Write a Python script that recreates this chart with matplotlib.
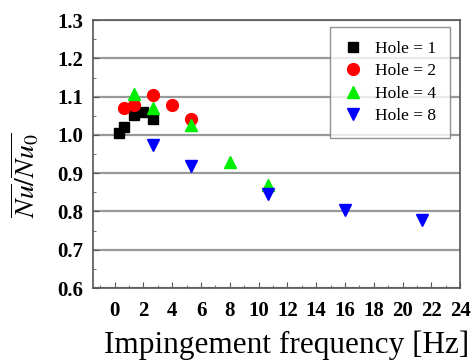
import matplotlib.pyplot as plt
from matplotlib.ticker import MultipleLocator

# frequency [Hz] and Nu/Nu0 per hole count
f_h1 = [0.33, 0.67, 1.33, 2.0, 2.67]
nu_h1 = [1.005, 1.022, 1.052, 1.059, 1.042]
f_h2 = [0.67, 1.33, 2.67, 4.0, 5.33]
nu_h2 = [1.071, 1.078, 1.104, 1.079, 1.041]
f_h4 = [1.33, 2.67, 5.33, 8.0, 10.67]
nu_h4 = [1.106, 1.070, 1.025, 0.930, 0.869]
f_h8 = [2.67, 5.33, 10.67, 16.0, 21.33]
nu_h8 = [0.974, 0.920, 0.845, 0.805, 0.778]

plt.rcParams['font.family'] = ['Liberation Serif', 'DejaVu Serif']
plt.rcParams['mathtext.fontset'] = 'stix'

fig = plt.figure(figsize=(4.71, 3.6), dpi=100)
ax = fig.add_axes([0.1975, 0.2, 0.7795, 0.744])

ax.plot(f_h1, nu_h1, 's', color='black', ms=7.5, label='Hole = 1', zorder=3)
ax.plot(f_h2, nu_h2, 'o', color='red', ms=8.5, label='Hole = 2', zorder=3)
ax.plot(f_h4, nu_h4, '^', color='#00ee00', ms=8.5, label='Hole = 4', zorder=3)
ax.plot(f_h8, nu_h8, 'v', color='blue', ms=8.5, label='Hole = 8', zorder=3)

ax.set_xlim(-1.5, 24)
ax.set_ylim(0.6, 1.3)
ax.xaxis.set_major_locator(MultipleLocator(2))
ax.xaxis.set_minor_locator(MultipleLocator(1))
ax.yaxis.set_major_locator(MultipleLocator(0.1))
ax.yaxis.set_minor_locator(MultipleLocator(0.05))
ax.set_xticks(range(0, 25, 2))
ax.set_yticks([0.6, 0.7, 0.8, 0.9, 1.0, 1.1, 1.2, 1.3])
ax.set_yticklabels(['0.6', '0.7', '0.8', '0.9', '1.0', '1.1', '1.2', '1.3'])

ax.grid(axis='y', color='#999999', lw=1.6, zorder=1)
ax.tick_params(which='both', direction='in', top=False, right=False, color='#555555')
ax.tick_params(which='major', length=4, labelsize=15)
ax.tick_params(axis='x', which='major', pad=9)
ax.tick_params(axis='y', which='major', pad=7)
ax.tick_params(which='minor', length=2)
for lab in ax.get_xticklabels() + ax.get_yticklabels():
    lab.set_fontweight('bold')
for sp in ax.spines.values():
    sp.set_color('#555555')
    sp.set_linewidth(1.2)

ax.set_xlabel('Impingement frequency [Hz]', fontsize=22.5)
ax.xaxis.set_label_coords(0.526, -0.16)
ax.set_ylabel(r'$\overline{Nu}/\overline{Nu_0}$', fontsize=20)
ax.yaxis.set_label_coords(-0.139, 0.42)

leg = ax.legend(loc='upper right', fontsize=12.5, frameon=True, fancybox=False,
                handlelength=1.0, handletextpad=0.8, borderpad=0.8,
                labelspacing=0.35, borderaxespad=0,
                bbox_to_anchor=(0.973, 0.974))
leg.get_frame().set_edgecolor('#777777')
leg.get_frame().set_linewidth(1.0)

plt.savefig('out.png', dpi=100)
